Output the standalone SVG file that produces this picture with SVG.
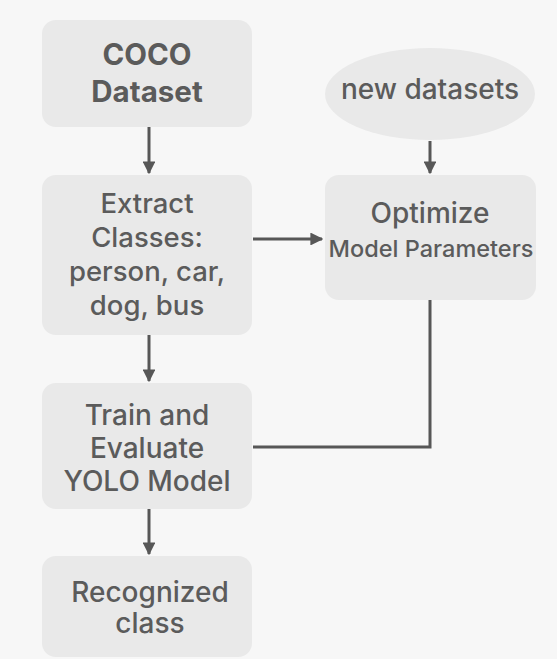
<svg xmlns="http://www.w3.org/2000/svg" width="557" height="659" viewBox="0 0 557 659">
  <style>
    .box { fill: #e9e9e9; }
    .t { font-family: Inter, "Liberation Sans", Arial, sans-serif; fill: #5b5b5b; text-anchor: middle; font-weight: 500; font-size: 28px; }
    .b { font-weight: 700; font-size: 29.5px; }
    .m { font-size: 27.5px; }
    .s { font-size: 23.5px; }
    .edge { stroke: #575757; stroke-width: 3; fill: none; }
  </style>
  <defs>
    <marker id="arrow" viewBox="0 0 10 10" refX="9" refY="5" markerWidth="4.3" markerHeight="4.3" markerUnits="strokeWidth" orient="auto">
      <path d="M0,0 L10,5 L0,10 z" fill="#575757"/>
    </marker>
  </defs>
  <rect width="557" height="659" fill="#f7f7f7"/>

  <g id="connectors">
    <line class="edge" x1="149" y1="127" x2="149" y2="173" marker-end="url(#arrow)"/>
    <line class="edge" x1="149" y1="335" x2="149" y2="381" marker-end="url(#arrow)"/>
    <line class="edge" x1="149" y1="509" x2="149" y2="554" marker-end="url(#arrow)"/>
    <line class="edge" x1="430" y1="141" x2="430" y2="173" marker-end="url(#arrow)"/>
    <line class="edge" x1="253" y1="239" x2="322" y2="239" marker-end="url(#arrow)"/>
    <polyline class="edge" points="430,300 430,447 253,447"/>
  </g>

  <g id="coco">
    <rect class="box" x="42" y="20" width="210" height="107" rx="14"/>
    <text class="t b" x="147" y="65">COCO</text>
    <text class="t b" x="147" y="102">Dataset</text>
  </g>

  <g id="extract">
    <rect class="box" x="42" y="175" width="210" height="160" rx="14"/>
    <text class="t m" x="147" y="213">Extract</text>
    <text class="t m" x="147" y="247">Classes:</text>
    <text class="t m" x="147" y="281">person, car,</text>
    <text class="t m" x="147" y="315">dog, bus</text>
  </g>

  <g id="train">
    <rect class="box" x="42" y="383" width="210" height="126" rx="14"/>
    <text class="t" x="147" y="425">Train and</text>
    <text class="t" x="147" y="458">Evaluate</text>
    <text class="t" x="147" y="491">YOLO Model</text>
  </g>

  <g id="recognized">
    <rect class="box" x="42" y="556" width="210" height="101" rx="14"/>
    <text class="t" x="150" y="602">Recognized</text>
    <text class="t" x="150" y="633">class</text>
  </g>

  <g id="new-datasets">
    <ellipse class="box" cx="430" cy="94" rx="105" ry="46"/>
    <text class="t" x="430" y="99">new datasets</text>
  </g>

  <g id="optimize">
    <rect class="box" x="325" y="175" width="211" height="125" rx="14"/>
    <text class="t" x="430" y="223">Optimize</text>
    <text class="t s" x="431" y="257">Model Parameters</text>
  </g>
</svg>
